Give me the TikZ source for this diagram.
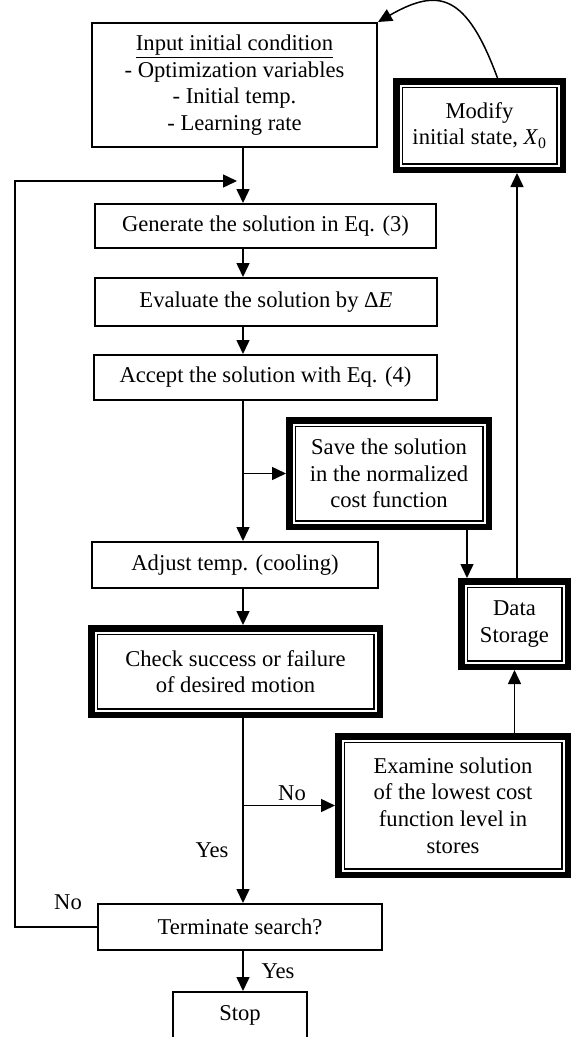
\documentclass[tikz,border=0pt]{standalone}
\usepackage{fontspec}
\setmainfont{Liberation Serif}
\usetikzlibrary{arrows.meta,calc}

\tikzset{
  box/.style={draw, line width=2pt, outer sep=1pt, inner sep=0pt, align=center},
  dbox/.style={draw, line width=6.5pt, outer sep=3.25pt, inner sep=0pt, align=center,
    path picture={\draw[line width=1.8pt]
      ([shift={(6.15pt,6.15pt)}]path picture bounding box.south west) rectangle
      ([shift={(-6.15pt,-6.15pt)}]path picture bounding box.north east);}},
  arr/.style={-{Triangle[length=14pt,width=13pt]}, line width=1.5pt},
}

\begin{document}
\begin{tikzpicture}[x=1pt, y=-1pt, font=\fontsize{22.6}{26.6}\selectfont]
    \useasboundingbox (0,0) rectangle (573,1037);
    \coordinate (ax) at (243,0);
    \coordinate (lft) at (15,0);
    \coordinate (join) at (237,181);
    \coordinate (dsx) at (467,0);
    \coordinate (rx) at (517,0);
    % main column
    \node[box, minimum width=285pt, minimum height=124pt] (init) at (234.5,85)
        {\underline{Input initial condition}\\- Optimization variables\\- Initial temp.\\- Learning rate};
    \node[box, minimum width=341pt, minimum height=44pt] (gen) at (265.5,226) {Generate the solution in Eq. (3)};
    \node[box, minimum width=342pt, minimum height=48pt] (eval) at (266,302) {Evaluate the solution by Δ\textit{E}};
    \node[box, minimum width=343pt, minimum height=45pt] (accept) at (265.5,377.5) {Accept the solution with Eq. (4)};
    \node[box, minimum width=286pt, minimum height=46pt] (adjust) at (235,565) {Adjust temp. (cooling)};
    \node[dbox, minimum width=288.5pt, minimum height=86.5pt] (check) at (235.5,671.5) {Check success or failure\\of desired motion};
    \node[box, minimum width=284pt, minimum height=46pt] (term) at (240,927) {Terminate search?};
    \node[box, minimum width=134pt, minimum height=47pt] (stop) at (240,1015.5) {Stop};
    % right column
    \node[dbox, minimum width=166.5pt, minimum height=88.5pt] (modify) at (479.5,125.5) {Modify\\initial state, \textit{X}\textsubscript{0}};
    \node[dbox, minimum width=199.5pt, minimum height=106.5pt] (save) at (389,473.5) {Save the solution\\in the normalized\\cost function};
    \node[dbox, minimum width=106.5pt, minimum height=85.5pt] (data) at (514.5,624) {Data\\Storage};
    \node[dbox, minimum width=229.5pt, minimum height=138.5pt] (exam) at (453,805.5) {Examine solution\\of the lowest cost\\function level in\\stores};
    % connectors
    \draw[arr] (init.south -| ax) -- (gen.north -| ax);
    \draw[arr] (gen.south -| ax) -- (eval.north -| ax);
    \draw[arr] (eval.south -| ax) -- (accept.north -| ax);
    \draw[arr] (accept.south -| ax) -- (adjust.north -| ax);
    \draw[arr] (save.west -| ax) -- (save.west);
    \draw[arr] (adjust.south -| ax) -- (check.north -| ax);
    \draw[arr] (check.south -| ax) -- (term.north -| ax);
    \draw[arr] (exam.west -| ax) -- (exam.west);
    \draw[arr] (term.south -| ax) -- (stop.north -| ax);
    \draw[arr] (term.west) -- (term.west -| lft) |- (join);
    \draw[arr] (save.south -| dsx) -- (data.north -| dsx);
    \draw[arr] (data.south |- exam.north) -- (data.south);
    \draw[arr] (data.north -| rx) -- (modify.south -| rx);
    \draw[arr] ([xshift=18pt]modify.north) .. controls +(-31,-84) and +(61,-35) .. (init.north east);
    % labels
    \node[anchor=base] (no1) at (292,800) {No};
    \node[anchor=base] (yes1) at (212,857) {Yes};
    \node[anchor=base] (no2) at (68,909) {No};
    \node[anchor=base] (yes2) at (278,978) {Yes};
\end{tikzpicture}
\end{document}
